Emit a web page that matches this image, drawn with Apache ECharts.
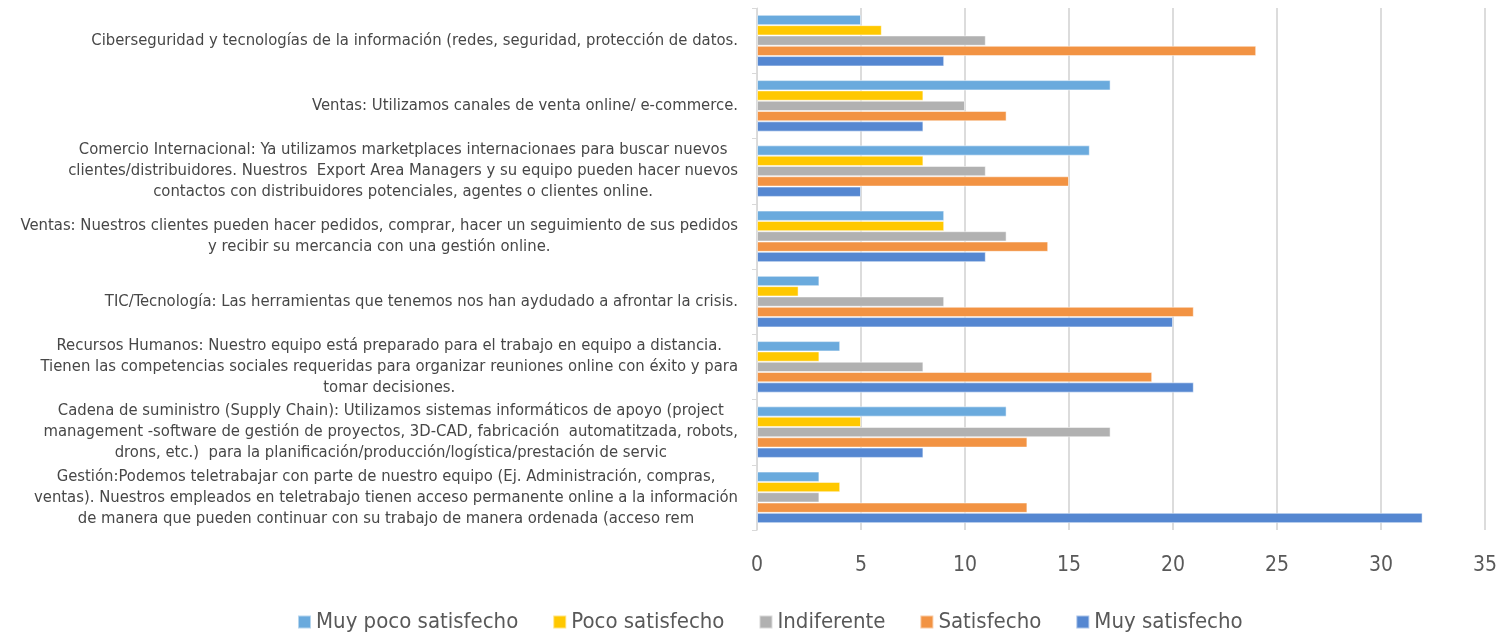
<!DOCTYPE html>
<html>
<head>
  <meta charset="utf-8">
  <title>Satisfacción por área</title>
  <script src="https://cdn.jsdelivr.net/npm/echarts@6/dist/echarts.min.js"></script>
  <style>
    html, body { margin: 0; padding: 0; background: #fff; }
    #main { width: 1496px; height: 633px; }
  </style>
</head>
<body>
<div id="main"></div>
<script>
  // categorias (de arriba a abajo), con los saltos de linea del original
  var categorias = [
    'Ciberseguridad y tecnologías de la información (redes, seguridad, protección de datos.',
    'Ventas: Utilizamos canales de venta online/ e-commerce.',
    'Comercio Internacional: Ya utilizamos marketplaces internacionaes para buscar nuevos\nclientes/distribuidores. Nuestros  Export Area Managers y su equipo pueden hacer nuevos\ncontactos con distribuidores potenciales, agentes o clientes online.',
    'Ventas: Nuestros clientes pueden hacer pedidos, comprar, hacer un seguimiento de sus pedidos\ny recibir su mercancia con una gestión online.',
    'TIC/Tecnología: Las herramientas que tenemos nos han aydudado a afrontar la crisis.',
    'Recursos Humanos: Nuestro equipo está preparado para el trabajo en equipo a distancia.\nTienen las competencias sociales requeridas para organizar reuniones online con éxito y para\ntomar decisiones.',
    'Cadena de suministro (Supply Chain): Utilizamos sistemas informáticos de apoyo (project\nmanagement -software de gestión de proyectos, 3D-CAD, fabricación  automatitzada, robots,\ndrons, etc.)  para la planificación/producción/logística/prestación de servic',
    'Gestión:Podemos teletrabajar con parte de nuestro equipo (Ej. Administración, compras,\nventas). Nuestros empleados en teletrabajo tienen acceso permanente online a la información\nde manera que pueden continuar con su trabajo de manera ordenada (acceso rem'
  ];

  var muyPoco = [5, 17, 16, 9, 3, 4, 12, 3];
  var poco = [6, 8, 8, 9, 2, 3, 5, 4];
  var indiferente = [11, 10, 11, 12, 9, 8, 17, 3];
  var satisfecho = [24, 12, 15, 14, 21, 19, 13, 13];
  var muySatisfecho = [9, 8, 5, 11, 20, 21, 8, 32];

  var nombres = ['Muy poco satisfecho', 'Poco satisfecho', 'Indiferente', 'Satisfecho', 'Muy satisfecho'];
  var colores = ['#6aaadd', '#ffc800', '#b1b1b1', '#f29343', '#5587d1'];
  var valores = [muyPoco, poco, indiferente, satisfecho, muySatisfecho];

  var fuente = "'Liberation Sans Narrow', 'DejaVu Sans Condensed', sans-serif";

  var chart = echarts.init(document.getElementById('main'));

  var series = nombres.map(function (n, i) {
    return {
      name: n,
      type: 'bar',
      data: valores[i],
      barGap: '0%',
      barCategoryGap: '21%',
      itemStyle: { color: colores[i], borderColor: 'rgba(255,255,255,0.5)', borderWidth: 1 }
    };
  });

  var option = {
    animation: false,
    color: colores,
    textStyle: { fontFamily: fuente },
    grid: { left: 757, right: 11, top: 8, bottom: 103, containLabel: false, outerBoundsMode: 'none' },
    legend: {
      top: 606,
      left: 292,
      data: nombres,
      itemWidth: 13,
      itemHeight: 13,
      itemGap: 34,
      icon: 'rect',
      textStyle: { fontSize: 22, color: '#595959', fontFamily: fuente }
    },
    xAxis: {
      type: 'value',
      min: 0,
      max: 35,
      interval: 5,
      axisLine: { show: false },
      axisTick: { show: false },
      axisLabel: { fontSize: 21, color: '#595959', margin: 25, fontFamily: fuente },
      splitLine: { lineStyle: { color: '#dcdcdc', width: 2 } }
    },
    yAxis: {
      type: 'category',
      inverse: true,
      data: categorias,
      axisLine: { lineStyle: { color: '#d9d9d9', width: 1 } },
      axisTick: { show: true, inside: false, length: 5, lineStyle: { color: '#d9d9d9' } },
      axisLabel: {
        margin: 19,
        color: '#474747',
        fontSize: 16.5,
        lineHeight: 21,
        fontFamily: fuente,
        formatter: function (v) {
          return v.split('\n').map(function (l) { return '{c|' + l + '}'; }).join('\n');
        },
        rich: {
          c: { align: 'center', fontSize: 16.5, lineHeight: 21, color: '#474747', fontFamily: fuente }
        }
      }
    },
    series: series
  };

  chart.setOption(option);
</script>
</body>
</html>
